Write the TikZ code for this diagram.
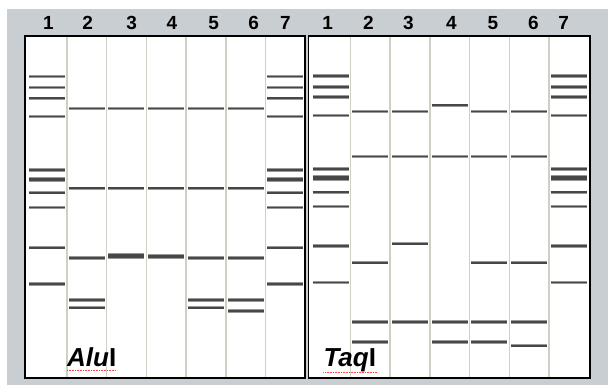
\documentclass[tikz,border=0pt]{standalone}
\usepackage{fontspec}
\setmainfont{Liberation Sans}
\usepackage{xcolor}
\usetikzlibrary{positioning}

\definecolor{gelgray}{RGB}{201,206,211}
\definecolor{lanegray}{RGB}{208,207,198}

\begin{document}
\begin{tikzpicture}[
    x=1pt, y=-1pt,
    panel/.style={draw=black, line width=1.8pt},
    lanesep/.style={draw=lanegray, line width=1.5pt},
    band/.style={draw=black!40, line width=3.2pt,
                 postaction={draw=black!72, line width=1.6pt}},
    thickband/.style={draw=black!40, line width=5.6pt,
                 postaction={draw=black!72, line width=3.8pt}},
    lanenum/.style={anchor=base, inner sep=0pt, font=\bfseries\fontsize{19}{21}\selectfont},
    enzyme/.style={anchor=base west, inner sep=0pt, font=\bfseries\fontsize{26}{28}\selectfont},
    spell/.style={draw=red!75, line width=0.6pt, densely dotted}
]
\useasboundingbox (0,0) rectangle (608,385);

% ---- Background ----
\fill[gelgray] (7.3,9.3) rectangle (608,385);

% ---- Gel panels ----
\fill[white] (25,36) rectangle (305,378);
\fill[white] (308.5,36) rectangle (590,378);
\foreach \s in {67, 106.7, 146.4, 186.1, 225.8, 265.5}
    \draw[lanesep] (\s,36) -- (\s,378);
\foreach \s in {350.5, 390.2, 429.9, 469.6, 509.3, 549}
    \draw[lanesep] (\s,36) -- (\s,378);
\draw[panel] (25,36) rectangle (305,378);
\draw[panel] (308.5,36) rectangle (590,378);

% ---- Lane numbers ----
\foreach \n/\x in {1/48.3, 2/87.7, 3/131.7, 4/172, 5/213.7, 6/253.7, 7/285.3}
    \node[lanenum] (aluN\n) at (\x,30) {\n};
\foreach \n/\x in {1/327.7, 2/368.3, 3/408.3, 4/451.3, 5/493, 6/533.3, 7/563.7}
    \node[lanenum] (taqN\n) at (\x,30) {\n};

% ======== AluI digest ========
% ladder lanes 1 and 7
\foreach \x in {47, 285.2}{
    \foreach \y in {76.7, 87.7, 98.3, 116.7, 170, 192.7, 207.5, 247.7, 284}
        \draw[band] (\x-18,\y) -- (\x+18,\y);
    \draw[thickband] (\x-18,179.5) -- (\x+18,179.5);
}
% sample lanes 2--6
\foreach \x/\ys in {86.7/{108.7, 188.3, 258, 300, 307.7},
                    126.4/{108.7, 188.3},
                    166.1/{108.7, 188.3},
                    205.8/{108.7, 188.3, 258, 300, 307.7},
                    245.5/{108.7, 188.3, 258, 300, 311}}
    \foreach \y in \ys
        \draw[band] (\x-18,\y) -- (\x+18,\y);
\draw[thickband] (126.4-18,256) -- (126.4+18,256);
\draw[thickband] (166.1-18,256.5) -- (166.1+18,256.5);

% ======== TaqI digest ========
% ladder lanes 1 and 7
\foreach \x in {330.5, 568.7}{
    \foreach \y in {76, 87, 97, 115.7, 169, 192.3, 206.5, 246, 282.3}
        \draw[band] (\x-18,\y) -- (\x+18,\y);
    \draw[thickband] (\x-18,178) -- (\x+18,178);
}
% sample lanes 2--6
\foreach \x/\ys in {370.2/{111.7, 156.7, 262.7, 322, 342},
                    409.9/{111.7, 156.7, 243.7, 322},
                    449.6/{105.3, 156.7, 322, 342},
                    489.3/{111.7, 156.7, 262.7, 322, 342},
                    529/{111.7, 156.7, 262.7, 322, 345.7}}
    \foreach \y in \ys
        \draw[band] (\x-18,\y) -- (\x+18,\y);

% ---- Enzyme labels ----
\node[enzyme] (alu) at (67,366.5) {\itshape Alu\upshape I};
\node[enzyme] (taq) at (323.3,366.7) {\itshape Taq\upshape I};
\draw[spell] ([yshift=-3.5pt]alu.base west) -- ([yshift=-3.5pt]alu.base east);
\draw[spell] ([yshift=-5.5pt]taq.base west) -- ([yshift=-5.5pt]taq.base east);

\end{tikzpicture}
\end{document}
